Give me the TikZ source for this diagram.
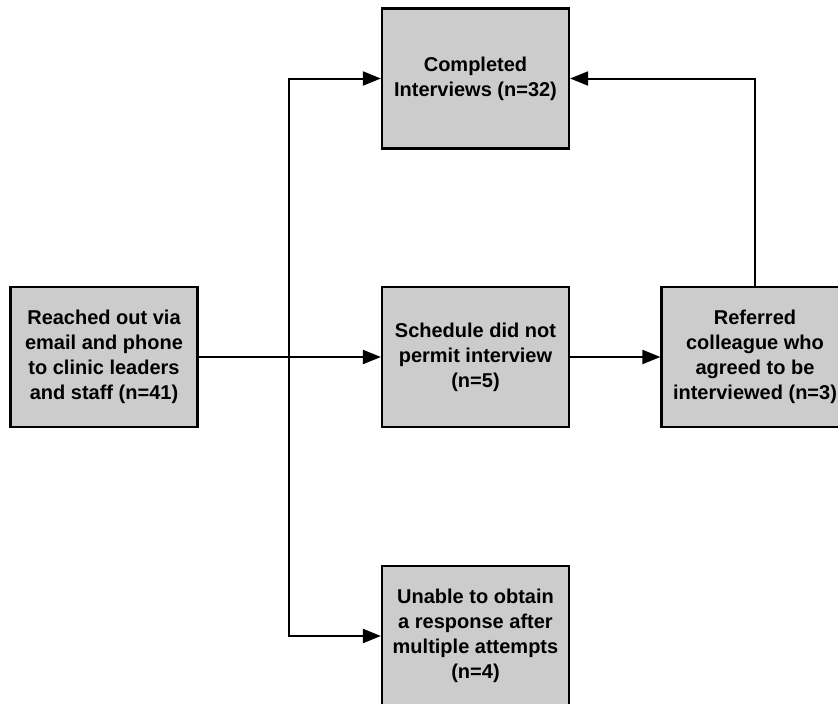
\documentclass[tikz,border=0pt]{standalone}
\usepackage{fontspec}
\setmainfont{Liberation Sans}
\usetikzlibrary{arrows.meta}
\definecolor{boxgray}{HTML}{CCCCCC}
\tikzset{
  flowbox/.style={draw=black, line width=2.2pt, fill=boxgray, minimum width=187pt,
    minimum height=140pt, inner sep=0pt, align=center,
    font=\fontsize{20}{25}\selectfont\bfseries},
  flowarrow/.style={line width=2pt, -{Triangle[length=18pt,width=14pt]}},
  flowline/.style={line width=2pt}
}
\begin{document}
\begin{tikzpicture}[x=1pt,y=-1pt]
  \useasboundingbox (0,0) rectangle (838,704);
  \clip (0,0) rectangle (838,704);
  \fill[white] (0,0) rectangle (838,704);

  \node[flowbox] (reach) at (104,357) {Reached out via\\email and phone\\to clinic leaders\\and staff (n=41)};
  \node[flowbox] (done) at (475.5,78.5) {Completed\\Interviews (n=32)};
  \node[flowbox] (sched) at (475.5,357) {Schedule did not\\permit interview\\(n=5)};
  \node[flowbox] (refer) at (755,357) {Referred\\colleague who\\agreed to be\\interviewed (n=3)};
  \node[flowbox] (noresp) at (475.5,636) {Unable to obtain\\a response after\\multiple attempts\\(n=4)};

  \coordinate (split) at (289,357);

  \draw[flowarrow] (reach.east) -- (sched.west);
  \draw[flowarrow] (split) |- (done.west);
  \draw[flowarrow] (split) |- (noresp.west);
  \draw[flowarrow] (sched.east) -- (refer.west);
  \draw[flowarrow] (refer.north) |- (done.east);
\end{tikzpicture}
\end{document}
